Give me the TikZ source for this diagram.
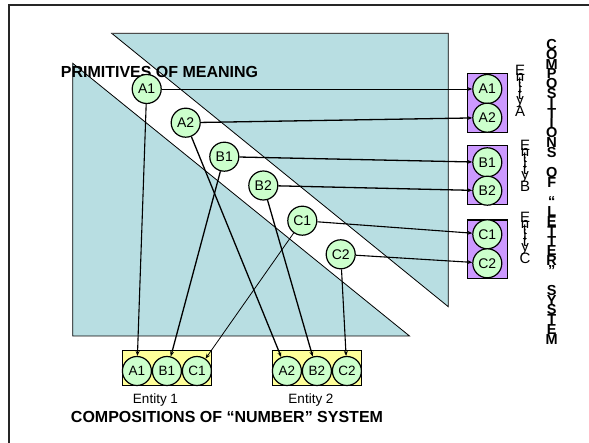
\documentclass[tikz,border=0pt]{standalone}
\usepackage{fontspec}
\setmainfont{Liberation Sans}
\usetikzlibrary{arrows.meta}
\definecolor{tealbg}{HTML}{B8DEE2}
\definecolor{greenfill}{HTML}{CCFFCC}
\definecolor{purplefill}{HTML}{CC99FF}
\definecolor{yellowfill}{HTML}{FFFF99}
\tikzset{
  circ/.style={circle, draw=black, line width=1.2pt, fill=greenfill, minimum size=29pt, inner sep=0pt, font=\fontsize{14}{16}\selectfont},
  bcirc/.style={circ, font=\fontsize{13.5}{16}\selectfont},
  conn/.style={line width=1.1pt, -{Stealth[length=5pt,width=4pt]}},
  box/.style={draw=black, line width=1.4pt},
  stackA/.style={anchor=base, inner sep=0pt, font=\fontsize{15}{17}\selectfont},
  stackB/.style={anchor=base, inner sep=0pt, font=\bfseries\fontsize{14.5}{16}\selectfont},
  title/.style={font=\bfseries\fontsize{16}{18}\selectfont, inner sep=0pt},
  label/.style={font=\fontsize{13.5}{16}\selectfont, inner sep=0pt}
}
\begin{document}
\begin{tikzpicture}[x=1pt,y=-1pt]
\useasboundingbox (0,0) rectangle (589,443);
\fill[white] (0,0) rectangle (589,443);
% frame
\draw[line width=1.5pt, black!85] (9,460) -- (9,5) -- (600,5);
% triangles
\filldraw[fill=tealbg, draw=black, line width=0.8pt] (111.7,33.3) -- (448.3,33.3) -- (448.3,306.7) -- cycle;
\draw[black!70, line width=1.3pt] (111.7,33.3) -- (448.3,33.3);
\filldraw[fill=tealbg, draw=black, line width=0.8pt] (72.7,63.3) -- (72.7,336) -- (409.5,336) -- cycle;
% title
\node[title] (prim) at (159.5,72) {PRIMITIVES OF MEANING};
% band circles
\node[circ] (pA1) at (146.7,89) {A1};
\node[circ] (pA2) at (185.7,122.7) {A2};
\node[circ] (pB1) at (224.3,156.7) {B1};
\node[circ] (pB2) at (263.3,185.5) {B2};
\node[circ] (pC1) at (302.3,220.7) {C1};
\node[circ] (pC2) at (340.7,254.3) {C2};
% purple boxes
\node[box, fill=purplefill, minimum width=39.6pt, minimum height=59.4pt, inner sep=0pt] (boxA) at (487.5,103) {};
\node[box, fill=purplefill, minimum width=39.6pt, minimum height=58.6pt, inner sep=0pt] (boxB) at (487.5,175) {};
\node[box, fill=purplefill, minimum width=39.6pt, minimum height=58.3pt, inner sep=0pt] (boxC) at (487.5,249.2) {};
\node[circ] (rA1) at (487.3,89) {A1};
\node[circ] (rA2) at (487.3,117.7) {A2};
\node[circ] (rB1) at (487.3,162.3) {B1};
\node[circ] (rB2) at (487.3,190.7) {B2};
\node[circ] (rC1) at (487.3,234.3) {C1};
\node[circ] (rC2) at (487.3,263.3) {C2};
% yellow boxes
\node[box, fill=yellowfill, minimum width=89.4pt, minimum height=34.8pt, inner sep=0pt] (box1) at (167,368.1) {};
\node[box, fill=yellowfill, minimum width=89.4pt, minimum height=34.8pt, inner sep=0pt] (box2) at (317,368.1) {};
\node[bcirc] (yA1) at (136.9,371) {A1};
\node[bcirc] (yB1) at (166.9,371) {B1};
\node[bcirc] (yC1) at (196.9,371) {C1};
\node[bcirc] (yA2) at (286.9,371) {A2};
\node[bcirc] (yB2) at (316.9,371) {B2};
\node[bcirc] (yC2) at (346.9,371) {C2};
% connectors to the right
\draw[conn, line width=0.8pt] (pA1) -- (rA1);
\draw[conn, line width=1.3pt] (pA2) -- (rA2);
\draw[conn, line width=1.3pt] (pB1) -- (rB1);
\draw[conn, line width=1.3pt] (pB2) -- (rB2);
\draw[conn] (pC1) -- (rC1);
\draw[conn] (pC2) -- (rC2);
% connectors down
\draw[conn] (pA1) -- (yA1);
\draw[conn, line width=1.3pt] (pB1) -- (yB1);
\draw[conn, line width=0.8pt] (pC1) -- (yC1);
\draw[conn, line width=1.3pt] (pA2) -- (yA2);
\draw[conn, line width=1.3pt] (pB2) -- (yB2);
\draw[conn] (pC2) -- (yC2);
% labels
\node[label] (e1) at (155.5,400) {Entity 1};
\node[label] (e2) at (311,400) {Entity 2};
\node[title] (numsys) at (227,417) {COMPOSITIONS OF “NUMBER” SYSTEM};
% vertical stacked labels
\foreach \ch [count=\i from 0] in {E,n,t,i,t,y,{},A}
  \node[stackA] (entA-\i) at (520,75.5+5.9*\i) {\ch};
\foreach \ch [count=\i from 0] in {E,n,t,i,t,y,{},B}
  \node[stackA] (entB-\i) at (525,150.5+5.9*\i) {\ch};
\foreach \ch [count=\i from 0] in {E,n,t,i,t,y,{},C}
  \node[stackA] (entC-\i) at (525,222.5+5.9*\i) {\ch};
\foreach \ch [count=\i from 0] in {C,O,M,P,O,S,I,T,I,O,N,S,{},O,F,{},“,L,E,T,T,E,R,”,{},S,Y,S,T,E,M}
  \node[stackB] (let-\i) at (551.7,49.5+9.83*\i) {\ch};
\end{tikzpicture}
\end{document}
